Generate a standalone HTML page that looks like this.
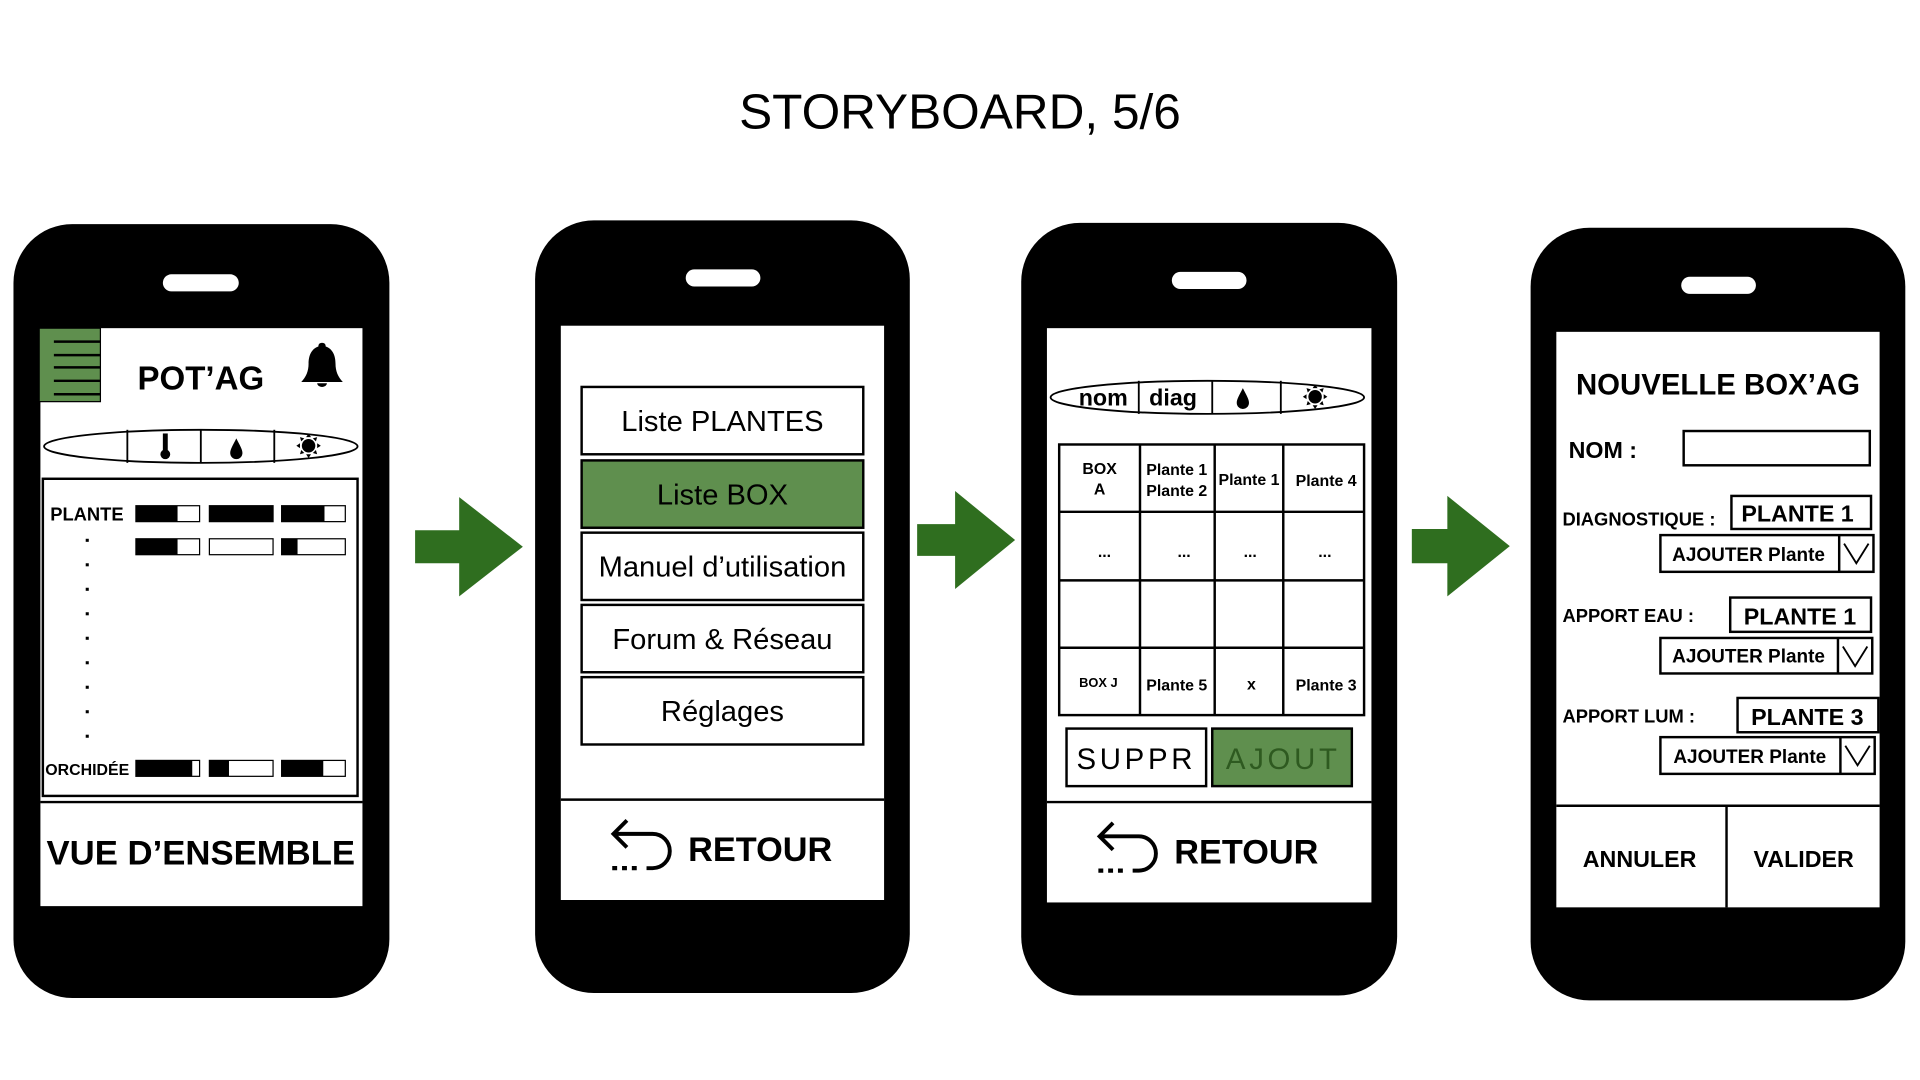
<!DOCTYPE html>
<html><head><meta charset="utf-8"><style>
html,body{margin:0;padding:0;background:#fff;}
svg{display:block}
text{font-family:"Liberation Sans",Arial,sans-serif;}
</style></head><body>
<svg width="1920" height="1080" viewBox="0 0 1568 882" xmlns="http://www.w3.org/2000/svg">
<defs>
<g id="drop"><path d="M0,-9 C3,-3 5,0 5,3 A5,5 0 0 1 -5,3 C-5,0 -3,-3 0,-9Z" fill="#000"/></g>
<g id="sun"><circle r="5.5" fill="#000"/>
<g fill="#000"><path d="M0,-10 l2,3 h-4z"/><path d="M0,10 l2,-3 h-4z"/><path d="M-10,0 l3,2 v-4z"/><path d="M10,0 l-3,2 v-4z"/>
<path d="M-7,-7 l3.5,1 l-2.5,2.5z"/><path d="M7,-7 l-3.5,1 l2.5,2.5z"/><path d="M-7,7 l3.5,-1 l-2.5,-2.5z"/><path d="M7,7 l-3.5,-1 l2.5,-2.5z"/></g></g>
<g id="retour" fill="none" stroke="#000" stroke-width="3.2">
<path d="M512,670 L501,681 L512,692"/><path d="M501,681 H533 A14,14 0 0 1 533,709 H528"/>
<path d="M500,709 h4 M508,709 h4 M516,709 h4" stroke-width="3.5"/></g>
</defs>
<text x="784" y="105" font-size="40.5" text-anchor="middle">STORYBOARD, 5/6</text>

<!-- Phone 1 -->
<rect x="11" y="183" width="307" height="632" rx="48" fill="#000"/>
<rect x="133" y="224" width="62" height="14" rx="7" fill="#fff"/>
<rect x="33" y="268" width="263" height="472" fill="#fff"/>
<rect x="32" y="268" width="50" height="60" fill="#5f8f4e" stroke="#000" stroke-width="1"/>
<g stroke="#000" stroke-width="2"><line x1="44" y1="279" x2="82" y2="279"/><line x1="44" y1="290" x2="82" y2="290"/><line x1="44" y1="300" x2="82" y2="300"/><line x1="44" y1="311" x2="82" y2="311"/><line x1="44" y1="322" x2="82" y2="322"/></g>
<text x="164" y="318" font-size="27" font-weight="bold" text-anchor="middle">POT’AG</text>
<path d="M263,280 c-2,0 -3,1 -3,3 c-6,2 -8,8 -8,14 c0,6 -2,11 -6,15 h34 c-4,-4 -6,-9 -6,-15 c0,-6 -2,-12 -8,-14 c0,-2 -1,-3 -3,-3z M259,313 h8 a4,3 0 0 1 -8,0z" fill="#000"/>
<ellipse cx="164" cy="364.5" rx="128" ry="13.5" fill="#fff" stroke="#000" stroke-width="1.5"/>
<g stroke="#000" stroke-width="1.5"><line x1="104" y1="351" x2="104" y2="378"/><line x1="164" y1="351" x2="164" y2="378"/><line x1="224" y1="351" x2="224" y2="378"/></g>
<rect x="133" y="354" width="4" height="15" fill="#000"/><circle cx="135" cy="371" r="4" fill="#000"/>
<use href="#drop" x="193" y="367"/>
<use href="#sun" x="252" y="364"/>
<rect x="35" y="391" width="257" height="259" fill="#fff" stroke="#000" stroke-width="2"/>
<text x="41" y="425" font-size="15" font-weight="bold">PLANTE</text>
<g stroke="#000" stroke-width="1" fill="#fff">
<rect x="111" y="413" width="52" height="13"/><rect x="171" y="413" width="52" height="13"/><rect x="230" y="413" width="52" height="13"/>
<rect x="111" y="440" width="52" height="13"/><rect x="171" y="440" width="52" height="13"/><rect x="230" y="440" width="52" height="13"/>
<rect x="111" y="621" width="52" height="13"/><rect x="171" y="621" width="52" height="13"/><rect x="230" y="621" width="52" height="13"/></g>
<g fill="#000">
<rect x="111" y="413" width="34" height="13"/><rect x="171" y="413" width="52" height="13"/><rect x="230" y="413" width="35" height="13"/>
<rect x="111" y="440" width="34" height="13"/><rect x="230" y="440" width="13" height="13"/>
<rect x="111" y="621" width="46" height="13"/><rect x="171" y="621" width="16" height="13"/><rect x="230" y="621" width="34" height="13"/>
<rect x="70" y="440" width="2.5" height="2.5"/><rect x="70" y="460" width="2.5" height="2.5"/><rect x="70" y="480" width="2.5" height="2.5"/><rect x="70" y="500" width="2.5" height="2.5"/><rect x="70" y="520" width="2.5" height="2.5"/><rect x="70" y="540" width="2.5" height="2.5"/><rect x="70" y="560" width="2.5" height="2.5"/><rect x="70" y="580" width="2.5" height="2.5"/><rect x="70" y="600" width="2.5" height="2.5"/></g>
<text x="37" y="633" font-size="13" font-weight="bold">ORCHIDÉE</text>
<line x1="33" y1="655" x2="296" y2="655" stroke="#000" stroke-width="2"/>
<text x="164" y="706" font-size="28" font-weight="bold" text-anchor="middle" textLength="252" lengthAdjust="spacingAndGlyphs">VUE D’ENSEMBLE</text>

<!-- Arrow 1 -->
<path d="M339,433 H375 V406 L427,446.5 L375,487 V460 H339Z" fill="#2f6e1f"/>

<!-- Phone 2 -->
<rect x="437" y="180" width="306" height="631" rx="48" fill="#000"/>
<rect x="560" y="220" width="61" height="14" rx="7" fill="#fff"/>
<rect x="458" y="266" width="264" height="469" fill="#fff"/>
<g stroke="#000" stroke-width="2" fill="#fff">
<rect x="475" y="316" width="230" height="55"/>
<rect x="475" y="376" width="230" height="55" fill="#5f8f4e"/>
<rect x="475" y="435" width="230" height="55"/>
<rect x="475" y="494" width="230" height="55"/>
<rect x="475" y="553" width="230" height="55"/></g>
<g font-size="23.8" text-anchor="middle">
<text x="590" y="352">Liste PLANTES</text>
<text x="590" y="412">Liste BOX</text>
<text x="590" y="471">Manuel d’utilisation</text>
<text x="590" y="530">Forum &amp; Réseau</text>
<text x="590" y="589">Réglages</text></g>
<line x1="458" y1="653" x2="722" y2="653" stroke="#000" stroke-width="2"/>
<use href="#retour"/>
<text x="562" y="703" font-size="28" font-weight="bold">RETOUR</text>

<!-- Arrow 2 -->
<path d="M749,428 H780 V401 L829,441 L780,481 V454 H749Z" fill="#2f6e1f"/>

<!-- Phone 3 -->
<rect x="834" y="182" width="307" height="631" rx="48" fill="#000"/>
<rect x="957" y="222" width="61" height="14" rx="7" fill="#fff"/>
<rect x="855" y="268" width="265" height="469" fill="#fff"/>
<ellipse cx="986" cy="324.5" rx="128" ry="13.5" fill="#fff" stroke="#000" stroke-width="1.5"/>
<g stroke="#000" stroke-width="1.5"><line x1="930" y1="311" x2="930" y2="338"/><line x1="990" y1="311" x2="990" y2="338"/><line x1="1046" y1="311" x2="1046" y2="338"/></g>
<text x="901" y="331" font-size="19" font-weight="bold" text-anchor="middle">nom</text>
<text x="958" y="331" font-size="19" font-weight="bold" text-anchor="middle">diag</text>
<use href="#drop" x="1015" y="326"/>
<use href="#sun" x="1074" y="324"/>
<g stroke="#000" stroke-width="2" fill="none">
<rect x="865" y="363" width="249" height="221"/>
<line x1="931" y1="363" x2="931" y2="584"/><line x1="992" y1="363" x2="992" y2="584"/><line x1="1048" y1="363" x2="1048" y2="584"/>
<line x1="865" y1="418" x2="1114" y2="418"/><line x1="865" y1="474" x2="1114" y2="474"/><line x1="865" y1="529" x2="1114" y2="529"/></g>
<g font-size="13" font-weight="bold" text-anchor="middle">
<text x="898" y="387">BOX</text><text x="898" y="404">A</text>
<text x="961" y="388">Plante 1</text><text x="961" y="405">Plante 2</text>
<text x="1020" y="396">Plante 1</text><text x="1083" y="397">Plante 4</text>
<text x="902" y="455">...</text><text x="967" y="455">...</text><text x="1021" y="455">...</text><text x="1082" y="455">...</text>
<text x="897" y="561" font-size="10.5">BOX J</text><text x="961" y="564">Plante 5</text><text x="1022" y="563">x</text><text x="1083" y="564">Plante 3</text></g>
<rect x="871" y="595" width="114" height="47" fill="#fff" stroke="#000" stroke-width="2"/>
<rect x="990" y="595" width="114" height="47" fill="#5f8f4e" stroke="#000" stroke-width="2"/>
<text x="928" y="628" font-size="24" text-anchor="middle" letter-spacing="3">SUPPR</text>
<text x="1048" y="628" font-size="24" text-anchor="middle" letter-spacing="3" fill="#2e5a20">AJOUT</text>
<line x1="855" y1="655" x2="1120" y2="655" stroke="#000" stroke-width="2"/>
<use href="#retour" x="397" y="2"/>
<text x="959" y="705" font-size="28" font-weight="bold">RETOUR</text>

<!-- Arrow 3 -->
<path d="M1153,432 H1182 V405 L1233,446 L1182,487 V460 H1153Z" fill="#2f6e1f"/>

<!-- Phone 4 -->
<rect x="1250" y="186" width="306" height="631" rx="48" fill="#000"/>
<rect x="1373" y="226" width="61" height="14" rx="7" fill="#fff"/>
<rect x="1271" y="271" width="264" height="470" fill="#fff"/>
<text x="1403" y="322" font-size="24" font-weight="bold" text-anchor="middle">NOUVELLE BOX’AG</text>
<text x="1281" y="374" font-size="19" font-weight="bold">NOM :</text>
<rect x="1375" y="352" width="152" height="28" fill="#fff" stroke="#000" stroke-width="2"/>
<g font-size="15" font-weight="bold">
<text x="1276" y="429">DIAGNOSTIQUE :</text>
<text x="1276" y="508">APPORT EAU :</text>
<text x="1276" y="590">APPORT LUM :</text></g>
<g stroke="#000" stroke-width="2" fill="#fff">
<rect x="1414" y="405" width="114" height="27"/><rect x="1356" y="437" width="174" height="30"/>
<rect x="1413" y="488" width="115" height="28"/><rect x="1356" y="521" width="173" height="29"/>
<rect x="1419" y="570" width="115" height="28"/><rect x="1356" y="602" width="175" height="30"/>
<line x1="1502" y1="437" x2="1502" y2="467"/><line x1="1501" y1="521" x2="1501" y2="550"/><line x1="1503" y1="602" x2="1503" y2="632"/>
<path d="M1506,444 L1516,460 L1526,444" fill="none" stroke-width="1.5"/>
<path d="M1505,528 L1515,544 L1525,528" fill="none" stroke-width="1.5"/>
<path d="M1507,609 L1517,625 L1527,609" fill="none" stroke-width="1.5"/></g>
<g font-size="19" font-weight="bold" text-anchor="middle">
<text x="1468" y="426">PLANTE 1</text><text x="1470" y="510">PLANTE 1</text><text x="1476" y="592">PLANTE 3</text></g>
<g font-size="15.5" font-weight="bold" text-anchor="middle">
<text x="1428" y="458">AJOUTER Plante</text><text x="1428" y="541">AJOUTER Plante</text><text x="1429" y="623">AJOUTER Plante</text></g>
<line x1="1271" y1="658" x2="1535" y2="658" stroke="#000" stroke-width="2"/>
<line x1="1410" y1="658" x2="1410" y2="741" stroke="#000" stroke-width="2"/>
<text x="1339" y="708" font-size="19" font-weight="bold" text-anchor="middle">ANNULER</text>
<text x="1473" y="708" font-size="19" font-weight="bold" text-anchor="middle">VALIDER</text>
</svg>
</body></html>
